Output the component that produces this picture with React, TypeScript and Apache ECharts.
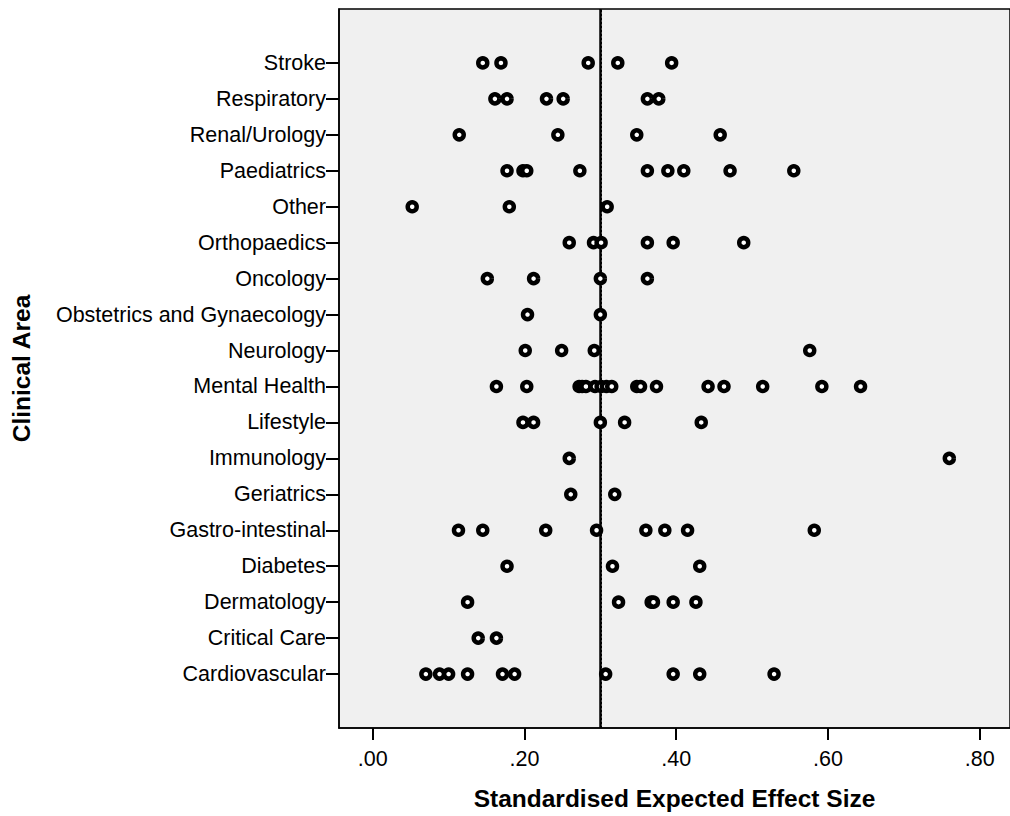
import React, { useEffect, useRef } from "react";
import * as echarts from "echarts";

// Categories from bottom (index 0) to top
const categories = [
  "Cardiovascular",
  "Critical Care",
  "Dermatology",
  "Diabetes",
  "Gastro-intestinal",
  "Geriatrics",
  "Immunology",
  "Lifestyle",
  "Mental Health",
  "Neurology",
  "Obstetrics and Gynaecology",
  "Oncology",
  "Orthopaedics",
  "Other",
  "Paediatrics",
  "Renal/Urology",
  "Respiratory",
  "Stroke",
];

const cardiovascular = [0.070, 0.088, 0.100, 0.125, 0.171, 0.187, 0.307, 0.396, 0.431, 0.529];
const criticalCare = [0.139, 0.163];
const dermatology = [0.125, 0.324, 0.367, 0.370, 0.396, 0.426];
const diabetes = [0.177, 0.316, 0.431];
const gastroIntestinal = [0.113, 0.145, 0.228, 0.295, 0.360, 0.385, 0.415, 0.582];
const geriatrics = [0.261, 0.319];
const immunology = [0.259, 0.760];
const lifestyle = [0.198, 0.212, 0.300, 0.332, 0.433];
const mentalHealth = [0.163, 0.203, 0.272, 0.276, 0.281, 0.293, 0.301, 0.308, 0.315, 0.348, 0.353, 0.374, 0.442, 0.463, 0.514, 0.592, 0.643];
const neurology = [0.201, 0.249, 0.292, 0.576];
const obstetrics = [0.204, 0.300];
const oncology = [0.151, 0.212, 0.300, 0.362];
const orthopaedics = [0.259, 0.291, 0.301, 0.362, 0.396, 0.489];
const other = [0.052, 0.180, 0.309];
const paediatrics = [0.177, 0.198, 0.203, 0.273, 0.362, 0.389, 0.410, 0.471, 0.555];
const renalUrology = [0.114, 0.244, 0.348, 0.458];
const respiratory = [0.161, 0.177, 0.229, 0.251, 0.362, 0.377];
const stroke = [0.145, 0.169, 0.284, 0.323, 0.394];

const valuesByCategory = [
  cardiovascular, criticalCare, dermatology, diabetes, gastroIntestinal, geriatrics,
  immunology, lifestyle, mentalHealth, neurology, obstetrics, oncology, orthopaedics,
  other, paediatrics, renalUrology, respiratory, stroke,
];

const xTicks = [0, 0.2, 0.4, 0.6, 0.8];
const referenceValue = 0.3;

const X_MIN = -0.0445;
const X_MAX = 0.84;
const FONT = "'Liberation Sans', Arial, sans-serif";

export default function App() {
  const ref = useRef<HTMLDivElement>(null);

  useEffect(() => {
    if (!ref.current) return;
    const chart = echarts.init(ref.current, undefined, { renderer: "svg" });

    const data: number[][] = [];
    valuesByCategory.forEach((vals, i) => {
      vals.forEach((v) => data.push([v, i]));
    });

    const pxPerUnit = 763.4;
    const gridLeft = 339;
    const gridWidth = (X_MAX - X_MIN) * pxPerUnit;

    chart.setOption({
      animation: false,
      backgroundColor: "#ffffff",
      grid: {
        left: gridLeft,
        top: 9,
        width: gridWidth,
        bottom: 85.5,
        show: true,
        backgroundColor: "#f0f0f0",
        borderColor: "#000000",
        borderWidth: 1.5,
      },
      xAxis: {
        type: "value",
        min: X_MIN,
        max: X_MAX,
        axisLine: { show: true, onZero: false, lineStyle: { color: "#000", width: 1.5 } },
        splitLine: { show: false },
        axisTick: {
          show: true,
          customValues: xTicks,
          length: 12,
          lineStyle: { color: "#000", width: 2 },
        },
        axisLabel: {
          customValues: xTicks,
          formatter: (v: number) => v.toFixed(2).replace(/^0/, ""),
          fontSize: 21.5,
          fontFamily: FONT,
          color: "#000",
          margin: 20,
        },
        name: "Standardised Expected Effect Size",
        nameLocation: "middle",
        nameGap: 58,
        nameTextStyle: { fontSize: 24.5, fontWeight: "bold", fontFamily: FONT, color: "#000" },
      },
      yAxis: {
        type: "value",
        min: -1.5,
        max: 18.5,
        axisLine: { show: true, onZero: false, lineStyle: { color: "#000", width: 1.5 } },
        splitLine: { show: false },
        axisTick: {
          show: true,
          customValues: categories.map((_, i) => i),
          length: 13,
          lineStyle: { color: "#000", width: 2 },
        },
        axisLabel: {
          customValues: categories.map((_, i) => i),
          formatter: (v: number) => categories[Math.round(v)] ?? "",
          fontSize: 21.5,
          fontFamily: FONT,
          color: "#000",
          margin: 13,
        },
        name: "Clinical Area",
        nameLocation: "middle",
        nameGap: 305,
        nameRotate: 90,
        nameTextStyle: { fontSize: 24.5, fontWeight: "bold", fontFamily: FONT, color: "#000" },
      },
      series: [
        {
          type: "scatter",
          data,
          symbol: "circle",
          symbolSize: 9,
          itemStyle: { color: "#ffffff", borderColor: "#000000", borderWidth: 4.5, opacity: 1 },
          markLine: {
            silent: true,
            symbol: ["none", "none"],
            label: { show: false },
            data: [
              { xAxis: referenceValue, lineStyle: { color: "#000", width: 2.5, type: "solid" } },
              {
                xAxis: referenceValue + 3 / pxPerUnit,
                lineStyle: { color: "#000", width: 2, type: [2, 2] },
              },
            ],
            z: 1,
          },
          z: 3,
        },
      ],
    });

    return () => chart.dispose();
  }, []);

  return (
    <div
      ref={ref}
      style={{ position: "fixed", left: 0, top: 0, width: 1010, height: 816, background: "#fff" }}
    />
  );
}
